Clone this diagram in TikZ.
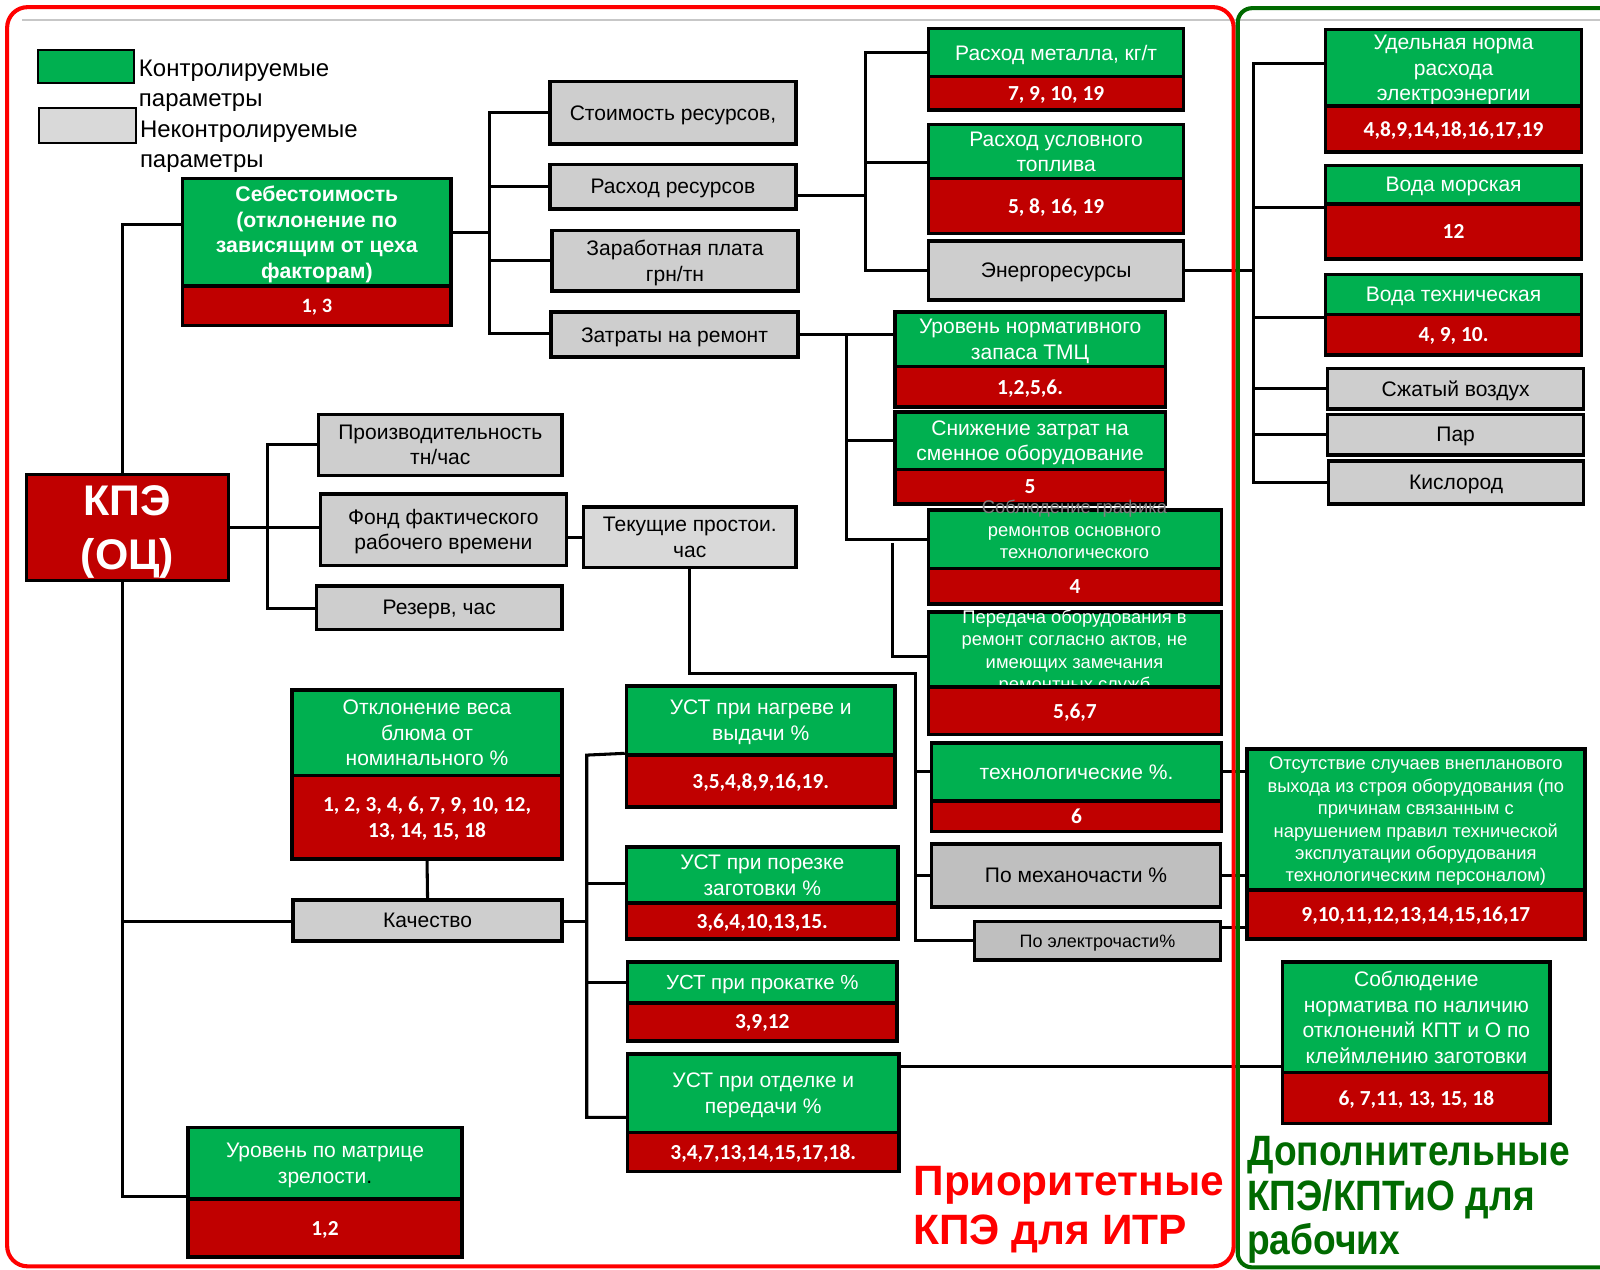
\documentclass[tikz,border=0pt]{standalone}
\usepackage{fontspec}
\setmainfont{Liberation Sans}
\newfontfamily\numfont{Carlito}
\newfontfamily\capfont[FakeStretch=0.875]{Liberation Sans}

\definecolor{kpgreen}{HTML}{00B050}
\definecolor{kpred}{HTML}{C00000}
\definecolor{kpgray}{HTML}{CECECE}
\definecolor{kplight}{HTML}{D9D9D9}
\definecolor{framegreen}{HTML}{006A00}
\definecolor{framered}{HTML}{FF0000}
\definecolor{ghost}{HTML}{808080}

\newcommand\fsz[2]{\fontsize{#1}{#2}\selectfont}
% box from corner (x1,y1) to corner (x2,y2): style, name, x1, y1, x2, y2, text
\newcommand\kpbox[7]{\node[#1, minimum width={(#5)-(#3)}, minimum height={(#6)-(#4)}] (#2) at ({((#3)+(#5))/2},{((#4)+(#6))/2}) {#7};}

\pgfdeclarelayer{paper}
\pgfdeclarelayer{wires}
\pgfsetlayers{paper,wires,main}

\tikzset{
  kpframe/.style={draw=black, line width=3.5pt, inner sep=0pt, align=center, text depth=0pt},
  kpgbox/.style={kpframe, fill=kpgreen, text=white, font=\fsz{20.6}{25}},
  kprbox/.style={kpframe, fill=kpred, text=white, font=\numfont\bfseries\fsz{21}{26}},
  kpubox/.style={kpframe, fill=kpgray, text=black, font=\fsz{20.6}{25}},
  kpwire/.style={draw=black, line width=3pt},
  kptext/.style={inner sep=0pt, align=center},
}

\begin{document}
\begin{tikzpicture}[x=1pt, y=-1pt]
\useasboundingbox (0,0) rectangle (1568,1244);
\clip (0,0) rectangle (1568,1244);
\begin{pgfonlayer}{paper}
  \fill[white] (0,0) rectangle (1568,1244);
  \draw[line width=2pt, color=black!22] (22,20) -- (1568,20);
\end{pgfonlayer}

% ---------- legend ----------
\node[kpframe, line width=2pt, fill=kpgreen, minimum width=94, minimum height=32] (lgC) at (84,65) {};
\node[kpframe, line width=2pt, fill=kplight, minimum width=95, minimum height=34] (lgU) at (85.5,123) {};
\node[anchor=west, align=left, inner sep=0pt, font=\fsz{23.5}{29}] (lgCt) at (136,84) {Контролируемые\\параметры};
\node[anchor=west, align=left, inner sep=0pt, font=\fsz{23.5}{29}] (lgUt) at (137,144) {Неконтролируемые\\параметры};

% ---------- root ----------
\kpbox{kprbox, font=\bfseries\fsz{42}{52}}{kpe}{26}{465}{224}{569}{КПЭ\\(ОЦ)}

% ---------- cost branch ----------
\kpbox{kpgbox, font=\bfseries\fsz{20.8}{25}}{seb}{179}{175}{442}{280}{Себестоимость\\(отклонение по\\зависящим от цеха\\факторам)}
\kpbox{kprbox, font=\numfont\bfseries\fsz{20}{24}}{sebN}{179}{280}{442}{319}{1, 3}

\kpbox{kpubox}{stoim}{539}{80}{780}{141}{Стоимость ресурсов,}
\kpbox{kpubox}{rash}{539}{161}{780}{205}{Расход ресурсов}
\kpbox{kpubox}{zarp}{541}{226}{782}{285}{Заработная плата\\грн/тн}
\kpbox{kpubox}{zatr}{540}{306}{782}{350}{Затраты на ремонт}

\kpbox{kpgbox}{met}{910}{28}{1160}{75}{Расход металла, кг/т}
\kpbox{kprbox}{metN}{910}{75}{1160}{108}{7, 9, 10, 19}
\kpbox{kpgbox}{usl}{910}{122}{1160}{175}{Расход условного\\топлива}
\kpbox{kprbox}{uslN}{910}{175}{1160}{229}{5, 8, 16, 19}
\kpbox{kpubox}{energ}{910}{236}{1160}{294}{Энергоресурсы}

\kpbox{kpgbox}{udn}{1299}{29}{1550}{104}{Удельная норма\\расхода\\электроэнергии}
\kpbox{kprbox}{udnN}{1299}{104}{1550}{149}{4,8,9,14,18,16,17,19}
\kpbox{kpgbox}{vmor}{1299}{162}{1550}{200}{Вода морская}
\kpbox{kprbox}{vmorN}{1299}{200}{1550}{254}{12}
\kpbox{kpgbox}{vteh}{1299}{269}{1550}{308}{Вода техническая}
\kpbox{kprbox}{vtehN}{1299}{308}{1550}{348}{4, 9, 10.}
\kpbox{kpubox}{air}{1301}{361}{1552}{401}{Сжатый воздух}
\kpbox{kpubox}{par}{1301}{406}{1552}{446}{Пар}
\kpbox{kpubox}{oxy}{1302}{452}{1552}{494}{Кислород}

\kpbox{kpgbox}{tmc}{877}{306}{1142}{359}{Уровень нормативного\\запаса ТМЦ}
\kpbox{kprbox}{tmcN}{877}{359}{1142}{399}{1,2,5,6.}
\kpbox{kpgbox}{sniz}{877}{404}{1142}{460}{Снижение затрат на\\сменное оборудование}
\kpbox{kprbox}{snizN}{877}{460}{1142}{494}{5}

\kpbox{kpgbox}{sobl}{910}{500}{1197}{557}{}
\node[kptext, text=white, font=\fsz{18}{22}] (soblT) at (1053,519) {{\color{ghost}Соблюдение графика}\\ремонтов основного\\технологического};
\kpbox{kprbox}{soblN}{910}{557}{1197}{592}{4}

\kpbox{kpgbox}{perd}{910}{600}{1197}{673}{}
\node[kptext, text=white, font=\fsz{18}{22}] (perdT) at (1053,639) {Передача оборудования в\\ремонт согласно актов, не\\имеющих замечания\\ремонтных служб};
\kpbox{kprbox}{perdN}{910}{673}{1197}{720}{5,6,7}

\kpbox{kpgbox}{tehn}{913}{728}{1197}{785}{технологические \%.}
\kpbox{kprbox}{tehnN}{913}{785}{1197}{815}{6}
\kpbox{kpubox, fill=black!25}{mekh}{913}{827}{1196}{889}{По механочасти \%}
\kpbox{kpubox, fill=black!25, font=\fsz{17.6}{21}}{elek}{955}{903}{1196}{941}{По электрочасти\%}

\kpbox{kpgbox, font=\fsz{18}{22}}{ots}{1222}{734}{1553}{872}{Отсутствие случаев внепланового\\выхода из строя оборудования (по\\причинам связанным с\\нарушением правил технической\\эксплуатации оборудования\\технологическим персоналом)}
\kpbox{kprbox}{otsN}{1222}{872}{1553}{920}{9,10,11,12,13,14,15,16,17}

% ---------- time branch ----------
\kpbox{kpubox}{proizv}{312}{406}{551}{466}{Производительность\\тн/час}
\kpbox{kpubox}{fond}{314}{484}{555}{554}{Фонд фактического\\рабочего времени}
\kpbox{kpubox}{rez}{310}{574}{551}{617}{Резерв, час}
\kpbox{kpubox, fill=kplight}{tek}{572}{497}{780}{556}{Текущие простои.\\час}

% ---------- quality branch ----------
\kpbox{kpgbox}{otkl}{286}{676}{551}{760}{Отклонение веса\\блюма от\\номинального \%}
\kpbox{kprbox}{otklN}{286}{760}{551}{842}{1, 2, 3, 4, 6, 7, 9, 10, 12,\\13, 14, 15, 18}
\kpbox{kpubox}{kach}{287}{882}{551}{922}{Качество}

\kpbox{kpgbox}{ustA}{614}{672}{877}{740}{УСТ при нагреве и\\выдачи \%}
\kpbox{kprbox}{ustAN}{614}{740}{877}{791}{3,5,4,8,9,16,19.}
\kpbox{kpgbox}{ustB}{614}{830}{880}{885}{УСТ при порезке\\заготовки \%}
\kpbox{kprbox}{ustBN}{614}{885}{880}{920}{3,6,4,10,13,15.}
\kpbox{kpgbox, font=\fsz{20}{24}}{ustC}{615}{943}{879}{983}{УСТ при прокатке \%}
\kpbox{kprbox}{ustCN}{615}{983}{879}{1020}{3,9,12}
\kpbox{kpgbox}{ustD}{615}{1033}{881}{1110}{УСТ при отделке и\\передачи \%}
\kpbox{kprbox}{ustDN}{615}{1110}{881}{1148}{3,4,7,13,14,15,17,18.}

\kpbox{kpgbox}{norm}{1257}{943}{1519}{1051}{Соблюдение\\норматива по наличию\\отклонений КПТ и О по\\клеймлению заготовки}
\kpbox{kprbox}{normN}{1257}{1051}{1519}{1101}{6, 7,11, 13, 15, 18}

\kpbox{kpgbox}{lvl}{184}{1105}{453}{1175}{Уровень по матрице\\зрелости{\color{black}.}}
\kpbox{kprbox}{lvlN}{184}{1175}{453}{1232}{1,2}

% ---------- captions ----------
\node[anchor=north west, align=left, inner sep=0pt, text=framered, font=\bfseries\fsz{41.6}{48}] (prio) at (895,1143) {Приоритетные\\КПЭ для ИТР};
\node[anchor=north west, align=left, inner sep=0pt, text=framegreen, font=\capfont\bfseries\fsz{41.6}{44}] (dop) at (1222,1113) {Дополнительные\\КПЭ/КПТиО для\\рабочих};

% ---------- bus junctions ----------
\coordinate (j1) at (120,220);
\coordinate (jl) at (120,1173);
\coordinate (jq) at (120,903);
\coordinate (jr) at (262,596);
\coordinate (jt) at (897,660);
\coordinate (js) at (480,327);
\coordinate (jm) at (848,192);
\coordinate (jmt) at (848,51);
\coordinate (jmu) at (848,159);
\coordinate (jmb) at (848,265);
\coordinate (je) at (1228,265);
\coordinate (jet) at (1228,62);
\coordinate (jem) at (1228,203);
\coordinate (jew) at (1228,311);
\coordinate (jeb) at (1228,473);
\coordinate (jz) at (830,328);
\coordinate (jp1) at (875,532);
\coordinate (jp2) at (875,643);
\coordinate (jk) at (575,903);
\coordinate (jkt) at (575,740);
\coordinate (jkm) at (575,866);
\coordinate (jkb) at (575,1095);
\coordinate (jn) at (1000,1045);
\coordinate (jx) at (1210,909);

\begin{pgfonlayer}{wires}
  % main trunk
  \draw[kpwire] (seb.west |- j1) -- (j1) -- (jl) -- (lvl.west |- jl);
  \draw[kpwire] (jq) -- (kach.west |- jq);
  % working time
  \draw[kpwire] (kpe.east) -- (fond.west |- kpe.east);
  \draw[kpwire] (proizv.west) -| (jr) -- (rez.west |- jr);
  \draw[kpwire] (fond.east |- tek.west) -- (tek.west);
  \draw[kpwire] (tek.south) |- (jt) -- (jt |- elek.west) -- (elek.west);
  \draw[kpwire] (tehn.west -| jt) -- (tehn.west);
  \draw[kpwire] (mekh.west -| jt) -- (mekh.west);
  % cost
  \draw[kpwire] (seb.east) -- (seb.east -| js);
  \draw[kpwire] (stoim.west) -| (js) -- (zatr.west |- js);
  \draw[kpwire] (rash.west) -- (rash.west -| js);
  \draw[kpwire] (zarp.west) -- (zarp.west -| js);
  % resources
  \draw[kpwire] (rash.east |- jm) -- (jm);
  \draw[kpwire] (met.west |- jmt) -- (jmt) -- (jmb) -- (energ.west |- jmb);
  \draw[kpwire] (jmu) -- (usl.west |- jmu);
  % energy
  \draw[kpwire] (energ.east |- je) -- (je);
  \draw[kpwire] (udn.west |- jet) -- (jet) -- (jeb) -- (oxy.west |- jeb);
  \draw[kpwire] (jem) -- (vmor.west |- jem);
  \draw[kpwire] (jew) -- (vteh.west |- jew);
  \draw[kpwire] (air.west -| jet) -- (air.west);
  \draw[kpwire] (par.west -| jet) -- (par.west);
  % repair
  \draw[kpwire] (zatr.east |- jz) -- (tmc.west |- jz);
  \draw[kpwire] (jz) -- (jz |- sobl.west) -- (sobl.west);
  \draw[kpwire] (sniz.west -| jz) -- (sniz.west);
  \draw[kpwire] (jp1) -- (jp2) -- (perd.west |- jp2);
  % quality
  \draw[kpwire] (otklN.south) -- (kach.north);
  \draw[kpwire] (kach.east |- jk) -- (jk);
  \draw[kpwire] (ustAN.north west) -- (jkt) -- (jkb) -- (ustD.west |- jkb);
  \draw[kpwire] (jkm) -- (ustB.west |- jkm);
  \draw[kpwire] (ustC.west -| jkt) -- (ustC.west);
  \draw[kpwire] (ustD.east |- jn) -- (norm.west |- jn);
  % equipment failures
  \draw[kpwire] (tehn.east) -- (ots.west |- tehn.east);
  \draw[kpwire] (mekh.east) -- (ots.west |- mekh.east);
  \draw[kpwire] (elek.east |- jx) -- (ots.west |- jx);
\end{pgfonlayer}

% ---------- section frames ----------
\draw[framered, line width=4pt, rounded corners=20pt] (7,7) rectangle (1209,1241);
\draw[framegreen, line width=4pt, rounded corners=14pt] (1213,8) rectangle (1640,1242);
\end{tikzpicture}
\end{document}
